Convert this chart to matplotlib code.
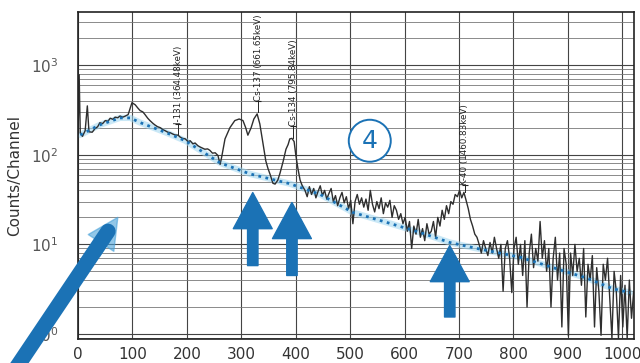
import numpy as np
import matplotlib.pyplot as plt
from matplotlib.ticker import LogLocator, FixedLocator, NullFormatter

channel = [0, 2, 4, 8, 13, 17, 20, 26, 31, 36, 40, 45, 50, 55, 59, 64, 68, 73, 77, 82, 86, 92,
           99, 105, 110, 114, 119, 123, 128, 132, 137, 141, 146, 151, 156, 160, 165, 169, 174,
           178, 184, 187, 192, 197, 202, 206, 211, 215, 220, 224, 229, 233, 238, 242, 247, 252,
           257, 261, 264, 270, 279, 288, 296, 303, 308, 312, 318, 323, 329, 334, 340, 345, 349,
           353, 358, 362, 367, 371, 377, 382, 386, 389, 393, 397, 400, 404, 408, 412,
           417, 421, 425, 429, 433, 437, 441, 445, 449, 453, 457, 461,
           465, 469, 473, 477, 481, 485, 489, 493, 497, 501, 505, 509, 513, 517, 521,
           525, 529, 533, 537, 541, 545, 549, 553, 557, 561, 565, 569, 573, 577, 581, 585, 589,
           593, 597, 601, 605, 609, 613, 617, 621, 625, 629, 633, 637, 641, 645, 649,
           653, 657, 661, 665, 669, 673, 677, 681, 685, 689, 693,
           697, 701, 705, 709, 713, 717, 721, 725, 729, 733,
           737, 741, 745, 749, 753, 757, 761, 765, 769, 773,
           777, 781, 785, 789, 793, 797, 801,
           805, 809, 813, 817, 821, 825, 829, 833, 837, 841, 845, 849, 853,
           857, 861, 865, 869, 873, 877, 881, 885,
           889, 893, 897, 901, 905, 909, 913, 917, 921, 925, 929,
           933, 937, 941, 945, 949, 953, 957, 961, 965, 969, 973,
           977, 981, 985, 989, 993, 997, 1001, 1005, 1009, 1013, 1017, 1021]
counts = [170, 780, 175, 160, 185, 350, 180, 178, 195, 205, 227, 222, 240, 236, 255, 248, 262, 258,
          270, 262, 268, 280,
          380, 360, 330, 310, 300, 280, 255, 240, 225, 215, 205, 200, 190, 185, 178, 176, 170,
          166, 165, 158, 152, 150, 140, 143, 132, 135, 126, 122, 118, 115, 116, 112, 104, 105,
          98, 78, 95, 150, 200, 240, 250, 240, 200, 165, 200, 250, 285, 220, 130, 85, 70,
          60, 48, 47, 52, 62, 85, 115, 130, 150, 152, 140, 100, 70, 52, 45,
          40, 34, 44, 36, 42, 33, 39, 45, 35, 40, 32, 37,
          42, 30, 35, 27, 33, 38, 29, 34, 25, 31, 17, 30, 36, 28, 33,
          26, 32, 24, 40, 28, 23, 30, 25, 33, 22, 29, 26, 31, 20, 27, 24, 19,
          22, 17, 20, 14, 18, 9, 16, 13, 19, 12, 15, 11, 17, 13, 14,
          18, 12, 20, 16, 24, 19, 27, 22, 30, 28, 36,
          34, 40, 33, 38, 31, 25, 19, 16, 13, 12,
          10, 8, 11, 9, 7.5, 10.5, 8, 12, 9, 7,
          10, 3.0, 9, 11, 7, 2.9, 9,
          12, 6, 10, 4.5, 11, 2.0, 8, 13, 5.5, 9, 6.5, 18, 7,
          11, 5, 9, 2.0, 7, 12, 4, 8,
          1.2, 9, 6, 0.95, 8, 4.5, 10, 5, 7, 3.5, 9,
          1.55, 6, 4, 7.5, 1.2, 5.5, 3, 0.97, 6, 4, 7,
          2.5, 0.9, 5, 3, 0.9, 4.5, 1.2, 3.5, 0.9, 4, 1.5, 3]

# fitted continuum (blue dotted)
base_ch = [4, 40, 77, 96, 114, 163, 197, 261, 316, 389, 445, 505, 568, 628, 683, 733, 812, 873,
           935, 983, 1014]
base_counts = [166, 215, 257, 257, 228, 175, 143, 81, 61, 47.5, 36, 22.7, 17.5, 13.6, 10.5, 9.0,
               7.2, 5.5, 4.2, 3.2, 2.9]

# nuclide labels: text, channel, text bottom, peak value
peak_labels = ['I-131 (364.48keV)', 'Cs-137 (661.65keV)', 'Cs-134 (795.84keV)', 'K-40 (1460.83keV)']
peak_ch = [184, 331, 395, 711]
peak_text_y = [220, 400, 210, 46]
peak_y = [168, 300, 155, 38]

# up arrows: channel, tip, tail
arrow_ch = [321, 393, 683]
arrow_tip = [37.8, 29.3, 9.7]
arrow_tail = [5.8, 4.5, 1.55]

blue = '#1b72b5'

fig = plt.figure(figsize=(6.4, 3.63), dpi=100)
ax = fig.add_axes([0.122, 0.066, 0.869, 0.901])
ax.set_yscale('log')
ax.set_xlim(0, 1022)
ax.set_ylim(0.88, 3900)

ax.plot(base_ch, base_counts, color='#9fd6ef', lw=4.5, alpha=0.55, solid_capstyle='round')
ax.plot(channel, counts, color='#2e2e2e', lw=1.0)
ax.plot(base_ch, base_counts, color=blue, lw=2.0, ls=(0, (1, 1.6)))

for lab, c, ty, py in zip(peak_labels, peak_ch, peak_text_y, peak_y):
    ax.text(c, ty, lab, rotation=90, ha='center', va='bottom', fontsize=6.3, color='#222')
    ax.plot([c, c], [ty, py], color='#222', lw=0.7)
    ax.plot([c], [ty], marker='_', color='#222', ms=4, mew=0.8)

for c, tip, tail in zip(arrow_ch, arrow_tip, arrow_tail):
    ax.annotate('', xy=(c, tip), xytext=(c, tail),
                arrowprops=dict(arrowstyle='simple,head_width=2.8,head_length=2.6,tail_width=0.75',
                                color=blue, shrinkA=0, shrinkB=0))

# big diagonal arrow coming in from the lower left
ax.annotate('', xy=(73, 20), xytext=(30, 8), annotation_clip=False,
            arrowprops=dict(arrowstyle='simple,head_width=2.2,head_length=2.2,tail_width=0.9',
                            color='#4aa3da', alpha=0.6, shrinkA=0, shrinkB=0))
ax.annotate('', xy=(55, 14), xytext=(-116, 0.4), annotation_clip=False,
            arrowprops=dict(arrowstyle='-', lw=11, color=blue, shrinkA=0, shrinkB=0))

ax.text(536, 143, '4', fontsize=18, color=blue, ha='center', va='center',
        bbox=dict(boxstyle='circle,pad=0.36', fc='white', ec=blue, lw=1.4))

ax.xaxis.set_major_locator(FixedLocator(range(0, 1001, 100)))
ax.yaxis.set_major_locator(LogLocator(base=10, numticks=10))
ax.yaxis.set_minor_locator(LogLocator(base=10, subs=np.arange(2, 10), numticks=20))
ax.yaxis.set_minor_formatter(NullFormatter())
ax.grid(True, which='major', color='#444', lw=0.8)
ax.grid(True, which='minor', axis='y', color='#777', lw=0.6)
ax.set_axisbelow(True)
for s in ax.spines.values():
    s.set_color('#222')
    s.set_linewidth(1.2)

ax.tick_params(axis='x', labelsize=11, labelcolor='#333', length=0, pad=6)
ax.tick_params(axis='y', which='both', labelsize=11, labelcolor='#555', length=0, pad=14)
ax.set_ylabel('Counts/Channel', fontsize=11, color='#333', labelpad=6)

fig.savefig('out.png', dpi=100)
